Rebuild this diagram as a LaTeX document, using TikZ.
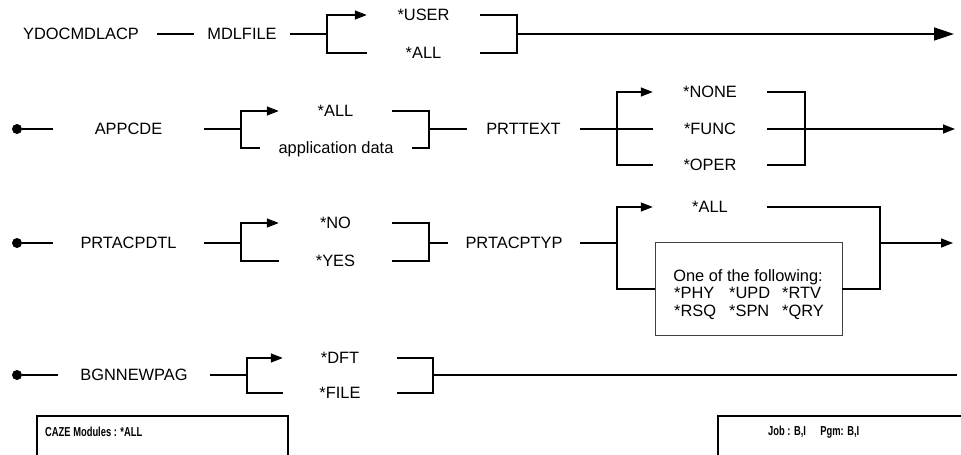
\documentclass[tikz,border=0pt]{standalone}
\usepackage{fontspec}
\setmainfont{Liberation Sans}
\usetikzlibrary{arrows.meta}
\begin{document}
\begin{tikzpicture}[x=1pt,y=-1pt,
  every node/.style={inner sep=0pt, font=\fontsize{16.4}{18}\selectfont},
  lbl/.style={text height=11.7pt, text depth=0pt},
  conn/.style={line width=1.4pt},
  arr/.style={conn,-{Triangle[length=12pt,width=9pt]}},
  bigarr/.style={conn,-{Triangle[length=20pt,width=13pt]}},
  dotnode/.style={circle,fill,minimum size=10pt,inner sep=0pt},
  foot/.style={font=\fontsize{13}{15}\selectfont\bfseries}]
\useasboundingbox (0,0) rectangle (961,455);
\clip (0,0) rectangle (961,455);
\fill[white] (0,0) rectangle (961,455);

% ---------- Row 1
\node[lbl,minimum width=152pt] (ydoc) at (81,34) {YDOCMDLACP};
\node[lbl,minimum width=96pt] (mdl) at (242,34) {MDLFILE};
\node[lbl,minimum width=113pt] (user) at (423.5,15) {*USER};
\node[lbl,minimum width=113pt] (all1) at (423.5,53) {*ALL};
\coordinate (s1) at (327,34);
\coordinate (j1) at (517,34);
\coordinate (e1) at (954,34);
\draw[conn] (ydoc) -- (mdl);
\draw[conn] (mdl) -- (s1);
\draw[arr] (s1) |- (user.west);
\draw[conn] (s1) |- (all1.west);
\draw[conn] (user.east) -| (j1);
\draw[conn] (all1.east) -| (j1);
\draw[bigarr] (j1) -- (e1);

% ---------- Row 2
\node[dotnode] (d2) at (17,129) {};
\node[lbl,minimum width=151pt] (appcde) at (128.5,129) {APPCDE};
\coordinate (s2) at (241,129);
\node[lbl,minimum width=113pt] (all2) at (335.5,111) {*ALL};
\node[lbl,minimum width=152pt] (appdata) at (336,148) {application data};
\coordinate (j2) at (429,129);
\node[lbl,minimum width=113pt] (prttext) at (523.5,129) {PRTTEXT};
\coordinate (s3) at (617,129);
\node[lbl,minimum width=114pt] (none) at (710,92) {*NONE};
\node[lbl,minimum width=114pt] (func) at (710,129) {*FUNC};
\node[lbl,minimum width=114pt] (oper) at (710,165) {*OPER};
\coordinate (j3) at (805,129);
\coordinate (e2) at (955,129);
\draw[conn] (d2) -- (appcde);
\draw[conn] (appcde) -- (s2);
\draw[arr] (s2) |- (all2.west);
\draw[conn] (s2) |- (appdata.west);
\draw[conn] (all2.east) -| (j2);
\draw[conn] (appdata.east) -| (j2);
\draw[conn] (j2) -- (prttext);
\draw[conn] (prttext) -- (func);
\draw[arr] (s3) |- (none.west);
\draw[conn] (s3) |- (oper.west);
\draw[conn] (none.east) -| (j3);
\draw[conn] (oper.east) -| (j3);
\draw[conn] (func.east) -- (j3);
\draw[arr] (j3) -- (e2);

% ---------- Row 3
\node[dotnode] (d3) at (17,243) {};
\node[lbl,minimum width=151pt] (prtacpdtl) at (128.5,243) {PRTACPDTL};
\coordinate (s4) at (241,243);
\node[lbl,minimum width=113pt] (no) at (335.5,223) {*NO};
\node[lbl,minimum width=113pt] (yes) at (335.5,261) {*YES};
\coordinate (j4) at (429,243);
\node[lbl,minimum width=132pt] (prtacptyp) at (514,243) {PRTACPTYP};
\coordinate (s5) at (617,243);
\node[lbl,minimum width=114pt] (all3) at (710,207) {*ALL};
\node[draw=black!75,line width=0.9pt,minimum width=187pt,minimum height=93pt] (ofbox) at (748.5,289) {};
\node[anchor=base] (of1) at (748,281) {One of the following:};
\node[anchor=base west] (phy) at (674,298.5) {*PHY};
\node[anchor=base west] (upd) at (729,298.5) {*UPD};
\node[anchor=base west] (rtv) at (782,298.5) {*RTV};
\node[anchor=base west] (rsq) at (674,316) {*RSQ};
\node[anchor=base west] (spn) at (729,316) {*SPN};
\node[anchor=base west] (qry) at (782,316) {*QRY};
\coordinate (j5) at (880,243);
\coordinate (e3) at (953,243);
\draw[conn] (d3) -- (prtacpdtl);
\draw[conn] (prtacpdtl) -- (s4);
\draw[arr] (s4) |- (no.west);
\draw[conn] (s4) |- (yes.west);
\draw[conn] (no.east) -| (j4);
\draw[conn] (yes.east) -| (j4);
\draw[conn] (j4) -- (prtacptyp);
\draw[conn] (prtacptyp) -- (s5);
\draw[arr] (s5) |- (all3.west);
\draw[conn] (s5) |- (ofbox.west);
\draw[conn] (all3.east) -| (j5);
\draw[conn] (ofbox.east) -| (j5);
\draw[arr] (j5) -- (e3);

% ---------- Row 4
\node[dotnode] (d4) at (17,375) {};
\node[lbl,minimum width=152pt] (bgn) at (134,375) {BGNNEWPAG};
\coordinate (s6) at (247,375);
\node[lbl,minimum width=114pt] (dft) at (340,358) {*DFT};
\node[lbl,minimum width=114pt] (file) at (340,393) {*FILE};
\coordinate (j6) at (433,375);
\coordinate (e4) at (957,375);
\draw[conn] (d4) -- (bgn);
\draw[conn] (bgn) -- (s6);
\draw[arr] (s6) |- (dft.west);
\draw[conn] (s6) |- (file.west);
\draw[conn] (dft.east) -| (j6);
\draw[conn] (file.east) -| (j6);
\draw[conn] (j6) -- (e4);

% ---------- Footer boxes
\draw[line width=1.8pt] (37,416) rectangle (288,480);
\draw[line width=1.8pt] (718,416) rectangle (980,480);
\node[foot,anchor=west] (caze) at (45,432) {\scalebox{0.72}[1]{CAZE Modules : *ALL}};
\node[foot,anchor=west] (job) at (768,432) {\scalebox{0.72}[1]{Job : B,I\hspace{20pt}Pgm: B,I}};
\end{tikzpicture}
\end{document}
